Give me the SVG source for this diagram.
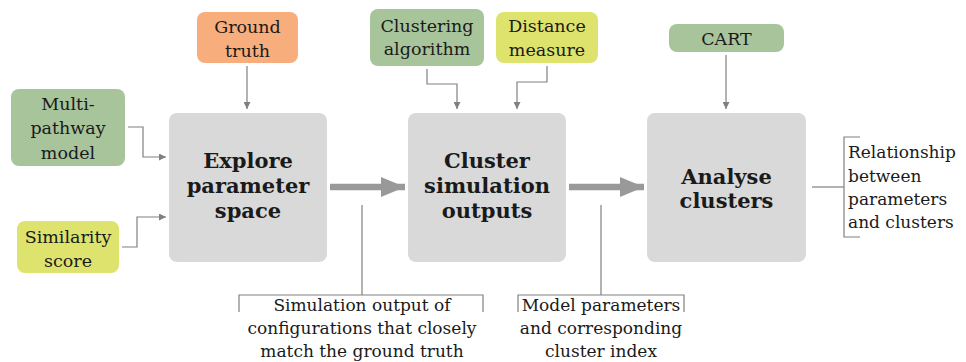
<svg xmlns="http://www.w3.org/2000/svg" width="966" height="362" viewBox="0 0 966 362">
  <style>
    text { font-family: "DejaVu Serif", "Liberation Serif", serif; fill: #1a1a1a; }
    .lbl { font-size: 17.5px; text-anchor: middle; }
    .big { font-size: 21px; font-weight: bold; text-anchor: middle; }
    .note { font-size: 17px; }
    .step { fill: #d9d9d9; }
    .green { fill: #a7c49b; }
    .orange { fill: #f8ad7c; }
    .yellow { fill: #dde36d; }
    .thin { fill: none; stroke: #808080; stroke-width: 1.2; }
    .thick { fill: none; stroke: #999999; stroke-width: 6.5; }
  </style>
  <defs>
    <marker id="tip" viewBox="0 0 10 10" refX="10" refY="5" markerWidth="7" markerHeight="7" markerUnits="userSpaceOnUse" orient="auto">
      <path d="M0,0 L10,5 L0,10 Z" fill="#808080"/>
    </marker>
    <marker id="bigtip" viewBox="0 0 24 20" refX="24" refY="10" markerWidth="24" markerHeight="20" markerUnits="userSpaceOnUse" orient="auto">
      <path d="M0,0 L24,10 L0,20 Z" fill="#999999"/>
    </marker>
  </defs>

  <!-- connectors -->
  <g id="connectors">
    <path class="thin" d="M247,66 V109" marker-end="url(#tip)"/>
    <path class="thin" d="M128,127 H143 V157 H166" marker-end="url(#tip)"/>
    <path class="thin" d="M122,247 H137 V217 H166" marker-end="url(#tip)"/>
    <path class="thin" d="M427,69 V84 H457 V109" marker-end="url(#tip)"/>
    <path class="thin" d="M547,66 V82 H517 V109" marker-end="url(#tip)"/>
    <path class="thin" d="M726,55 V109" marker-end="url(#tip)"/>
    <path class="thick" d="M330,187 H405" marker-end="url(#bigtip)"/>
    <path class="thick" d="M569,187 H644" marker-end="url(#bigtip)"/>
    <!-- output brackets -->
    <path class="thin" d="M362,205 V295"/>
    <path class="thin" d="M239,312 V295 H483 V312"/>
    <path class="thin" d="M601,205 V295"/>
    <path class="thin" d="M518,312 V295 H684 V312"/>
    <path class="thin" d="M812,187 H844"/>
    <path class="thin" d="M860,137 H844 V237 H860"/>
  </g>

  <!-- inputs -->
  <g id="ground-truth">
    <rect class="orange" x="197" y="12" width="101" height="51" rx="8"/>
    <text class="lbl" x="247.5" y="33">Ground</text>
    <text class="lbl" x="247.5" y="57">truth</text>
  </g>
  <g id="multi-pathway-model">
    <rect class="green" x="11" y="89" width="114" height="77" rx="8"/>
    <text class="lbl" x="68" y="110">Multi-</text>
    <text class="lbl" x="68" y="134">pathway</text>
    <text class="lbl" x="68" y="159">model</text>
  </g>
  <g id="similarity-score">
    <rect class="yellow" x="17" y="221" width="102" height="52" rx="8"/>
    <text class="lbl" x="68" y="243">Similarity</text>
    <text class="lbl" x="68" y="267">score</text>
  </g>
  <g id="clustering-algorithm">
    <rect class="green" x="370" y="9" width="114" height="57" rx="8"/>
    <text class="lbl" x="427" y="32">Clustering</text>
    <text class="lbl" x="427" y="55">algorithm</text>
  </g>
  <g id="distance-measure">
    <rect class="yellow" x="496" y="12" width="102" height="51" rx="8"/>
    <text class="lbl" x="547" y="32">Distance</text>
    <text class="lbl" x="547" y="56">measure</text>
  </g>
  <g id="cart">
    <rect class="green" x="669" y="24" width="115" height="28" rx="8"/>
    <text class="lbl" x="726.5" y="45">CART</text>
  </g>

  <!-- main steps -->
  <g id="explore-parameter-space">
    <rect class="step" x="169" y="113" width="158" height="149" rx="8"/>
    <text class="big" x="248" y="168">Explore</text>
    <text class="big" x="248" y="193">parameter</text>
    <text class="big" x="248" y="218">space</text>
  </g>
  <g id="cluster-simulation-outputs">
    <rect class="step" x="408" y="113" width="158" height="149" rx="8"/>
    <text class="big" x="487" y="168">Cluster</text>
    <text class="big" x="487" y="193">simulation</text>
    <text class="big" x="487" y="218">outputs</text>
  </g>
  <g id="analyse-clusters">
    <rect class="step" x="647" y="113" width="159" height="149" rx="8"/>
    <text class="big" x="726.5" y="184">Analyse</text>
    <text class="big" x="726.5" y="208">clusters</text>
  </g>

  <!-- outputs -->
  <g id="simulation-output">
    <text class="lbl note" x="362" y="311">Simulation output of</text>
    <text class="lbl note" x="362" y="334">configurations that closely</text>
    <text class="lbl note" x="362" y="357">match the ground truth</text>
  </g>
  <g id="model-parameters">
    <text class="lbl note" x="601" y="311">Model parameters</text>
    <text class="lbl note" x="601" y="334">and corresponding</text>
    <text class="lbl note" x="601" y="357">cluster index</text>
  </g>
  <g id="relationship">
    <text class="note" x="848" y="158">Relationship</text>
    <text class="note" x="848" y="182">between</text>
    <text class="note" x="848" y="205">parameters</text>
    <text class="note" x="848" y="228">and clusters</text>
  </g>
</svg>
